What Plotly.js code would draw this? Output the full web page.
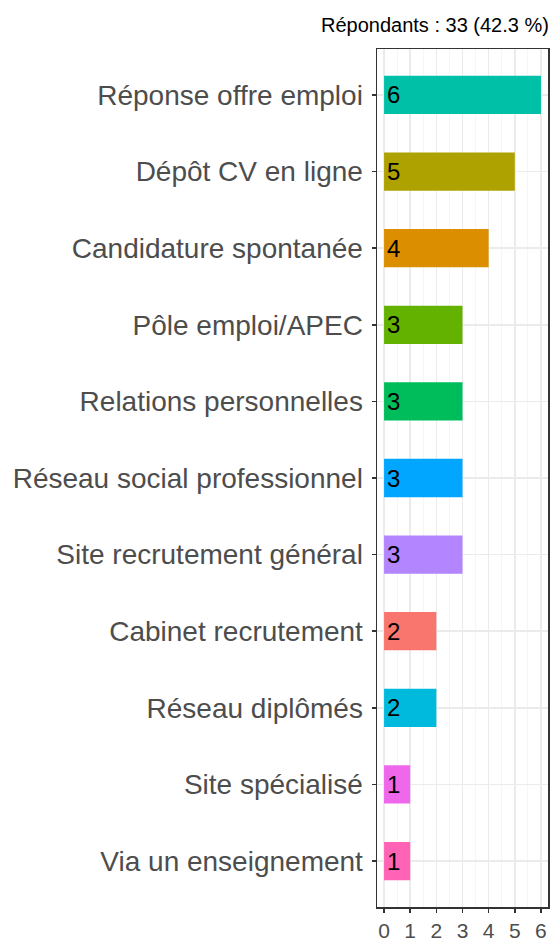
<!DOCTYPE html>
<html><head><meta charset="utf-8">
<script src="https://cdn.plot.ly/plotly-3.0.1.min.js"></script>
<style>body{margin:0;padding:0;background:#fff}#chart{width:552px;height:944px}</style>
</head><body><div id="chart"></div>
<script>
// Categories listed bottom to top
const categories = ["Via un enseignement","Site spécialisé","Réseau diplômés","Cabinet recrutement","Site recrutement général","Réseau social professionnel","Relations personnelles","Pôle emploi/APEC","Candidature spontanée","Dépôt CV en ligne","Réponse offre emploi"];
const counts = [1,1,2,2,3,3,3,3,4,5,6];
const colors = ["#FF63B6","#EF67EB","#00BADE","#F8766D","#B385FF","#00A6FF","#00BD5C","#64B200","#DB8E00","#AEA200","#00C1A7"];
const xTicks = [0,1,2,3,4,5,6];
const subtitle = "Répondants : 33 (42.3 %)";

const trace = {
  type: "bar", orientation: "h",
  y: categories, x: counts,
  marker: {color: colors, line: {width: 0}},
  width: 0.5,
  text: counts.map(String),
  textposition: "inside", insidetextanchor: "start",
  constraintext: "none",
  textfont: {family: "Liberation Sans, Arial, sans-serif", size: 24, color: "#000"},
  hoverinfo: "none"
};
const layout = {
  width: 552, height: 944,
  margin: {l: 377, r: 4, t: 49, b: 37},
  paper_bgcolor: "#fff", plot_bgcolor: "#fff",
  font: {family: "Liberation Sans, Arial, sans-serif"},
  showlegend: false,
  xaxis: {
    range: [-0.27, 6.27], tickvals: xTicks, ticktext: xTicks.map(String),
    showgrid: true, gridcolor: "#ebebeb", gridwidth: 1.6,
    minor: {dtick: 0.5, tick0: 0, showgrid: true, gridcolor: "#f2f2f2", gridwidth: 0.8, ticks: ""},
    zeroline: false, showline: true, mirror: true, linecolor: "#333", linewidth: 1.5,
    ticks: "outside", ticklen: 4, tickwidth: 1.5, tickcolor: "#333",
    tickfont: {size: 21, color: "#4d4d4d"}
  },
  yaxis: {
    type: "category", categoryorder: "array", categoryarray: categories,
    range: [-0.6, 10.6],
    showgrid: true, gridcolor: "#ebebeb", gridwidth: 1.6,
    zeroline: false, showline: true, mirror: true, linecolor: "#333", linewidth: 1.5,
    ticks: "outside", ticklen: 4, tickwidth: 1.5, tickcolor: "#333",
    ticklabelstandoff: 3,
    tickfont: {size: 28, color: "#4d4d4d"}
  },
  annotations: [{
    text: subtitle, xref: "paper", yref: "paper", x: 1, y: 1,
    xanchor: "right", yanchor: "bottom", yshift: 11, xshift: 3, showarrow: false,
    font: {size: 20, color: "#000"}
  }]
};
Plotly.newPlot("chart", [trace], layout, {displayModeBar: false, staticPlot: true});
</script></body></html>
